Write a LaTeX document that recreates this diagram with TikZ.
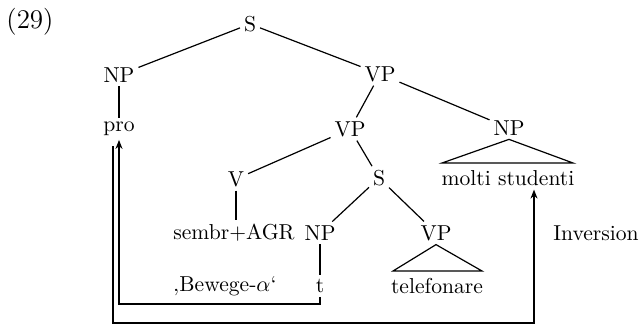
\documentclass[tikz,border=0pt]{standalone}
\usetikzlibrary{arrows.meta}
\begin{document}
\begin{tikzpicture}[x=0.5pt,y=-0.5pt,
  lab/.style={font=\fontsize{10.8}{12}\selectfont, inner sep=1.8pt},
  edge/.style={line width=0.6pt},
  arr/.style={line width=0.6pt, -{Stealth[length=4.5pt,width=3.5pt]}}]
\path[use as bounding box] (0,0) rectangle (640,326);
\node[lab, font=\fontsize{13.5}{15}\selectfont] (num) at (30,22) {(29)};
\node[lab] (S) at (250,24) {S};
\node[lab] (NPa) at (119,75) {NP};
\node[lab] (VPa) at (380,74) {VP};
\node[lab] (pro) at (119,129) {pro};
\node[lab] (VPb) at (350,129) {VP};
\node[lab] (NPb) at (509,128) {NP};
\node[lab] (V) at (236,179) {V};
\node[lab] (Sb) at (379,178) {S};
\node[lab] (molti) at (508,178) {molti studenti};
\node[lab] (sembr) at (234,233) {sembr+AGR};
\node[lab] (NPc) at (320,233) {NP};
\node[lab] (VPc) at (436,233) {VP};
\node[lab] (inv) at (596,233) {Inversion};
\node[lab] (bew) at (225,286) {‚Bewege-$\alpha$‘};
\node[lab] (t) at (320,286) {t};
\node[lab] (tel) at (437,286) {telefonare};
% tree edges
\draw[edge] (S) -- (NPa);
\draw[edge] (S) -- (VPa);
\draw[edge] (NPa) -- (pro);
\draw[edge] (VPa) -- (VPb);
\draw[edge] (VPa) -- (NPb);
\draw[edge] (VPb) -- (V);
\draw[edge] (VPb) -- (Sb);
\draw[edge] (V) -- (V |- sembr.north);
\draw[edge] (Sb) -- (NPc);
\draw[edge] (Sb) -- (VPc);
\draw[edge] (NPc) -- (t);
% triangles
\coordinate (ta1) at (442,163);
\coordinate (ta2) at (573,163);
\draw[edge] (ta1) -- (NPb.south) -- (ta2) -- cycle;
\coordinate (tb1) at (393,271);
\coordinate (tb2) at (482,271);
\draw[edge] (tb1) -- (VPc.south) -- (tb2) -- cycle;
% movement arrows
\coordinate (c1) at (119,304);
\draw[arr] (t.south) -- (t.south |- c1) -- (c1) -- (c1 |- pro.south);
\coordinate (o1) at (113,146);
\coordinate (o2) at (113,323);
\coordinate (o3) at (534,323);
\draw[arr] (o1) -- (o2) -- (o3) -- (o3 |- molti.south);
\end{tikzpicture}
\end{document}
